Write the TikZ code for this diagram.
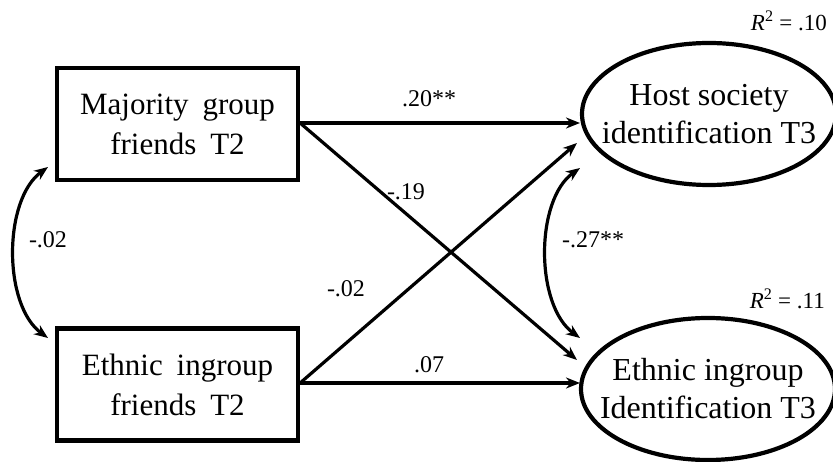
\documentclass[tikz,border=0pt]{standalone}
\usepackage{fontspec}
\setmainfont{Liberation Serif}
\usetikzlibrary{arrows.meta,shapes.geometric,calc}
\begin{document}
\begin{tikzpicture}[x=1pt,y=-1pt,
  boxnode/.style={draw,line width=4.2pt,minimum width=241pt,minimum height=112pt,inner sep=0pt},
  boxtext/.style={align=center,font={\fontsize{31}{40}\selectfont\spaceskip=0.45em plus 0.1em\relax},inner sep=0pt},
  latent/.style={draw,ellipse,line width=4.2pt,minimum width=254pt,minimum height=142pt,inner sep=0pt},
  lattext/.style={align=center,font=\fontsize{32}{38}\selectfont,inner sep=0pt},
  regpath/.style={line width=3.2pt,-{Stealth[length=14pt,width=11pt]}},
  covpath/.style={line width=3.2pt,{Stealth[length=14pt,width=11pt]}-{Stealth[length=14pt,width=11pt]}},
  lab/.style={font=\fontsize{24}{26}\selectfont,inner sep=0pt,anchor=base},
  rsq/.style={font=\fontsize{23}{26}\selectfont,inner sep=0pt,anchor=base east}]
\clip (0,0) rectangle (833,462);
\fill[white] (0,0) rectangle (833,462);
% nodes
\node[boxnode] (mgf) at (177.5,124) {};
\node[boxtext] (mgft) at (mgf.center) {Majority group\\friends T2};
\node[boxnode] (eif) at (177.5,384.5) {};
\node[boxtext] (eift) at (eif.center) {Ethnic ingroup\\friends T2};
\node[latent] (hsi) at (709,114) {};
\node[lattext] (hsit) at (hsi.center) {Host society\\identification T3};
\node[latent] (eii) at (708,389) {};
\node[lattext] (eiit) at (eii.center) {Ethnic ingroup\\Identification T3};
% endpoints
\coordinate (a1) at (580,123);
\coordinate (a2) at (577,360);
\coordinate (a3) at (577,143);
\coordinate (a4) at (580,383);
\coordinate (c1) at (580,168);
\coordinate (c2) at (580,338);
\coordinate (l1) at (48,167);
\coordinate (l2) at (48,338);
% paths
\draw[regpath] (mgf.east |- a1) -- (a1);
\draw[regpath] (mgf.east |- a1) -- (a2);
\draw[regpath] (eif.east |- a4) -- (a3);
\draw[regpath] (eif.east |- a4) -- (a4);
\draw[covpath] (c1) .. controls (535,200) and (535,305) .. (c2);
\draw[covpath] (l1) .. controls (3,200) and (3,305) .. (l2);
% labels
\node[lab] (p1) at (429,107) {.20**};
\node[lab] (p2) at (406,200) {-.19};
\node[lab] (p3) at (346,297) {-.02};
\node[lab] (p4) at (429,373) {.07};
\node[lab] (p5) at (593,248) {-.27**};
\node[lab] (p6) at (48,248) {-.02};
\node[rsq] (r1) at (827,31) {\textit{R}\textsuperscript{2} = .10};
\node[rsq] (r2) at (825,309) {\textit{R}\textsuperscript{2} = .11};
\end{tikzpicture}
\end{document}
